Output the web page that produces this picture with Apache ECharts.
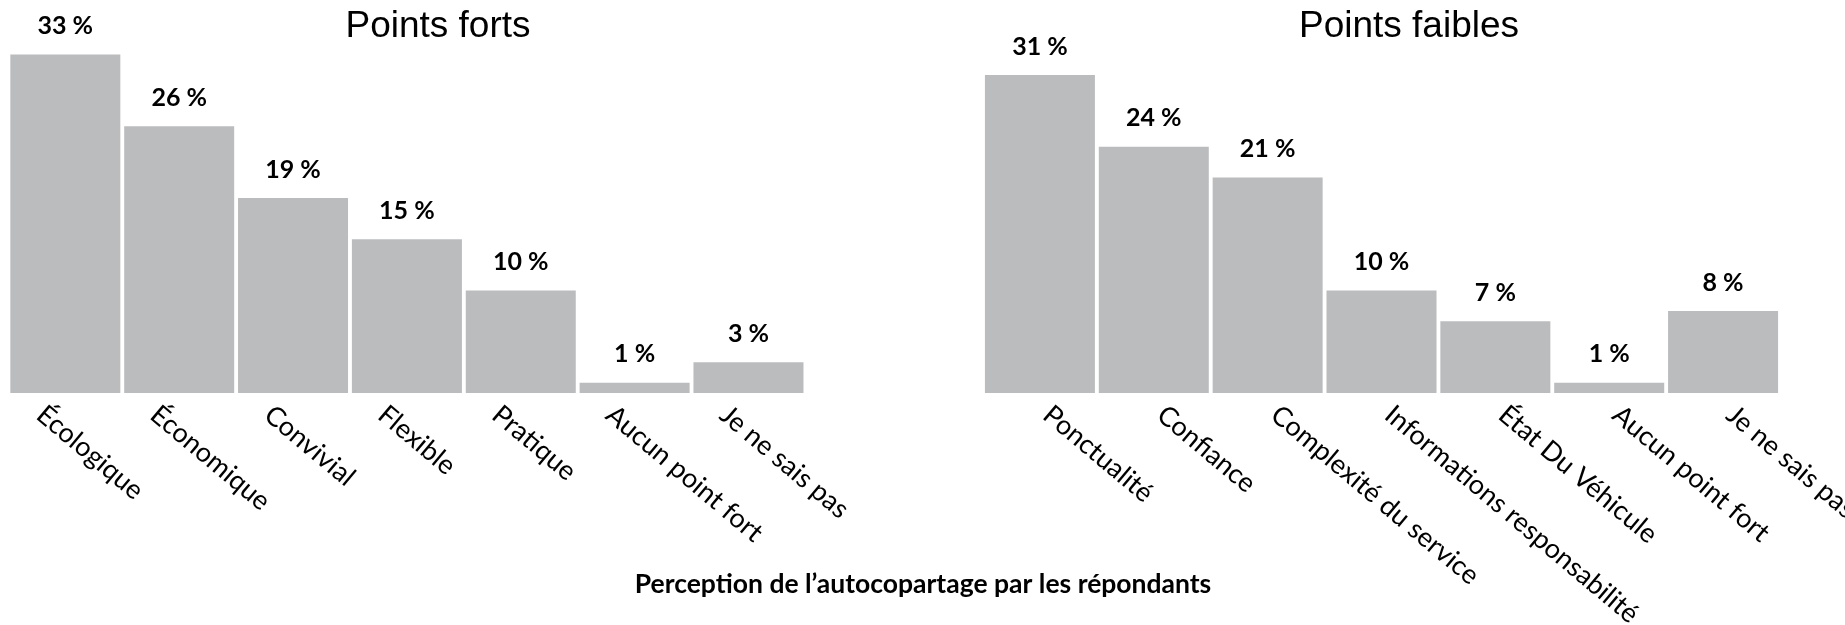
<!DOCTYPE html>
<html>
<head>
<meta charset="utf-8">
<script src="https://cdn.jsdelivr.net/npm/echarts@6/dist/echarts.min.js"></script>
<style>
  html, body { margin: 0; padding: 0; background: #fff; }
  #main { width: 1845px; height: 625px; }
</style>
</head>
<body>
<div id="main"></div>
<script>
// données
var fortsCategories = ['Écologique', 'Économique', 'Convivial', 'Flexible', 'Pratique', 'Aucun point fort', 'Je ne sais pas'];
var fortsValues = [33, 26, 19, 15, 10, 1, 3];
var faiblesCategories = ['Ponctualité', 'Confiance', 'Complexité du service', 'Informations responsabilité', 'État Du Véhicule', 'Aucun point fort', 'Je ne sais pas'];
var faiblesValues = [31, 24, 21, 10, 7, 1, 8];

var barColor = '#BBBCBE';
var labelFont = 'Lato, "Open Sans", sans-serif';

// grilles des barres, puis grilles (décalées) qui ne portent que les étiquettes
var plotTop = 34, plotHeight = 359, plotWidth = 797;
var leftX = 8.4, rightX = 983;
var labelShiftLeft = -25, labelShiftRight = 7;

function xAxisFor(idx, cats, showLabels) {
    return {
        type: 'category',
        gridIndex: idx,
        data: cats,
        axisLine: { show: false },
        axisTick: { show: false },
        axisLabel: {
            show: showLabels,
            interval: 0,
            rotate: -40,
            margin: 18,
            fontFamily: labelFont,
            fontSize: 27,
            color: '#000'
        }
    };
}

function yAxisFor(idx) {
    return { type: 'value', gridIndex: idx, min: 0, max: 35, show: false };
}

function barSeries(idx, values) {
    return {
        type: 'bar',
        xAxisIndex: idx,
        yAxisIndex: idx,
        data: values,
        barWidth: 110,
        itemStyle: { color: barColor },
        label: {
            show: true,
            position: 'top',
            distance: 16,
            fontFamily: labelFont,
            fontWeight: 'bold',
            fontSize: 25,
            color: '#000',
            formatter: function (p) { return p.value + ' %'; }
        }
    };
}

function gridAt(x) {
    return { left: x, width: plotWidth, top: plotTop, height: plotHeight, outerBoundsMode: 'none', containLabel: false };
}

var titleStyle = { fontFamily: '"Liberation Sans", Arial, sans-serif', fontWeight: 'normal', fontSize: 37, color: '#000' };

var myChart = echarts.init(document.getElementById('main'));
var option = {
    animation: false,
    title: [
        { text: 'Points forts', left: 433, top: 3, textAlign: 'center', textStyle: titleStyle },
        { text: 'Points faibles', left: 1404, top: 3, textAlign: 'center', textStyle: titleStyle },
        {
            text: 'Perception de l\u2019autocopartage par les répondants',
            left: 918,
            top: 566,
            textAlign: 'center',
            textStyle: { fontFamily: labelFont, fontWeight: 'bold', fontSize: 26.5, color: '#000' }
        }
    ],
    grid: [
        gridAt(leftX),
        gridAt(rightX),
        gridAt(leftX + labelShiftLeft),
        gridAt(rightX + labelShiftRight)
    ],
    xAxis: [
        xAxisFor(0, fortsCategories, false),
        xAxisFor(1, faiblesCategories, false),
        xAxisFor(2, fortsCategories, true),
        xAxisFor(3, faiblesCategories, true)
    ],
    yAxis: [yAxisFor(0), yAxisFor(1), yAxisFor(2), yAxisFor(3)],
    series: [barSeries(0, fortsValues), barSeries(1, faiblesValues)]
};
myChart.setOption(option);
</script>
</body>
</html>
